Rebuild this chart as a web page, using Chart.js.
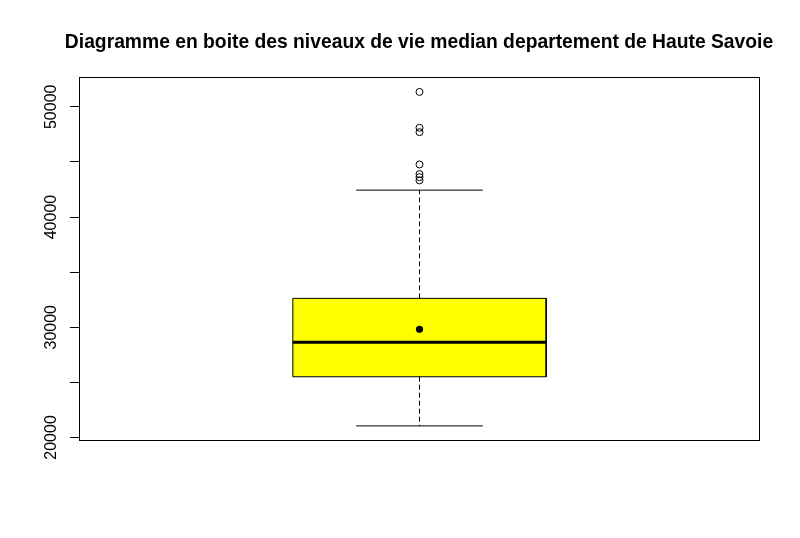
<!DOCTYPE html>
<html><head><meta charset="utf-8">
<script src="https://cdn.jsdelivr.net/npm/chart.js@4.4.1/dist/chart.umd.min.js"></script>
<style>html,body{margin:0;padding:0;background:#fff}</style>
</head><body><canvas id="c" width="800" height="538"></canvas>
<script>
const titleText = 'Diagramme en boite des niveaux de vie median departement de Haute Savoie';
const categories = ['Haute Savoie'];
const whiskerLow = [21050];
const quartile1 = [25510];
const medians = [28630];
const means = [29810];
const quartile3 = [32620];
const whiskerHigh = [42440];
const outliers = [[51350, 48100, 47700, 44770, 43890, 43620, 43320]];
const yTickValues = [20000, 25000, 30000, 35000, 40000, 45000, 50000];
const yTickLabels = ['20000', '', '30000', '', '40000', '', '50000'];

const BOX_HALF = 0.186, CAP_HALF = 0.093;
const FONT = "'Liberation Sans', Arial, sans-serif";
const datasets = [];
categories.forEach((cat, i) => {
  const c = i + 1;
  datasets.push({
    label: cat + ' box', order: 10,
    data: [{x: c - BOX_HALF, y: quartile1[i]}, {x: c - BOX_HALF, y: quartile3[i]},
           {x: c + BOX_HALF, y: quartile3[i]}, {x: c + BOX_HALF, y: quartile1[i]},
           {x: c - BOX_HALF, y: quartile1[i]}],
    showLine: true, fill: 'shape', backgroundColor: '#FFFF00', borderColor: '#000',
    borderWidth: 1, pointRadius: 0, tension: 0
  });
  datasets.push({
    label: cat + ' upper whisker', order: 6,
    data: [{x: c, y: quartile3[i]}, {x: c, y: whiskerHigh[i]}],
    showLine: true, borderColor: '#000', borderWidth: 1, borderDash: [5, 3], pointRadius: 0
  });
  datasets.push({
    label: cat + ' lower whisker', order: 6,
    data: [{x: c, y: quartile1[i]}, {x: c, y: whiskerLow[i]}],
    showLine: true, borderColor: '#000', borderWidth: 1, borderDash: [5, 3], pointRadius: 0
  });
  datasets.push({
    label: cat + ' upper cap', order: 5,
    data: [{x: c - CAP_HALF, y: whiskerHigh[i]}, {x: c + CAP_HALF, y: whiskerHigh[i]}],
    showLine: true, borderColor: '#000', borderWidth: 1, pointRadius: 0
  });
  datasets.push({
    label: cat + ' lower cap', order: 5,
    data: [{x: c - CAP_HALF, y: whiskerLow[i]}, {x: c + CAP_HALF, y: whiskerLow[i]}],
    showLine: true, borderColor: '#000', borderWidth: 1, pointRadius: 0
  });
  datasets.push({
    label: cat + ' median', order: 3,
    data: [{x: c - BOX_HALF, y: medians[i]}, {x: c + BOX_HALF, y: medians[i]}],
    showLine: true, borderColor: '#000', borderWidth: 3, pointRadius: 0, borderCapStyle: 'butt'
  });
  datasets.push({
    label: cat + ' mean', order: 1,
    data: [{x: c, y: means[i]}],
    pointRadius: 3.6, backgroundColor: '#000', borderColor: '#000', borderWidth: 0
  });
  datasets.push({
    label: cat + ' outliers', order: 1,
    data: outliers[i].map(v => ({x: c, y: v})),
    pointRadius: 3.5, backgroundColor: 'rgba(0,0,0,0)', borderColor: '#000', borderWidth: 1
  });
});

const framePlugin = {
  id: 'frame',
  afterDraw(chart) {
    const a = chart.chartArea, ctx = chart.ctx;
    ctx.save();
    ctx.strokeStyle = '#000';
    ctx.lineWidth = 1;
    ctx.strokeRect(Math.round(a.left) + 0.5, Math.round(a.top) + 0.5,
                   Math.round(a.right - a.left) - 1, Math.round(a.bottom - a.top));
    ctx.restore();
  }
};

new Chart(document.getElementById('c'), {
  type: 'scatter',
  data: { datasets },
  plugins: [framePlugin],
  options: {
    responsive: false,
    animation: false,
    layout: { padding: { left: 38, right: 0, top: 0, bottom: 98 } },
    plugins: {
      legend: { display: false },
      tooltip: { enabled: false },
      title: {
        display: true, text: titleText, fullSize: true, color: '#000',
        font: { family: FONT, size: 19.3, weight: 'bold' },
        padding: { top: 31, bottom: 23 }
      }
    },
    scales: {
      x: { type: 'linear', min: 0.5, max: 1.5, display: false },
      y: {
        type: 'linear', min: 19770, max: 52690,
        afterBuildTicks: s => { s.ticks = yTickValues.map(v => ({ value: v })); },
        afterFit: s => { s.width = 41; },
        border: { display: false },
        grid: { display: true, drawOnChartArea: false, drawTicks: true, tickLength: 9, color: '#000', lineWidth: 1 },
        ticks: {
          color: '#000', font: { family: FONT, size: 16 },
          minRotation: 90, maxRotation: 90, crossAlign: 'center', padding: -4,
          autoSkip: false,
          callback: (v, idx) => yTickLabels[idx]
        }
      },
      yRightMargin: {
        type: 'linear', position: 'right', display: true,
        min: 19770, max: 52690,
        afterFit: s => { s.width = 40; },
        border: { display: false },
        grid: { display: false, drawTicks: false },
        ticks: { display: false }
      }
    }
  }
});
</script></body></html>
